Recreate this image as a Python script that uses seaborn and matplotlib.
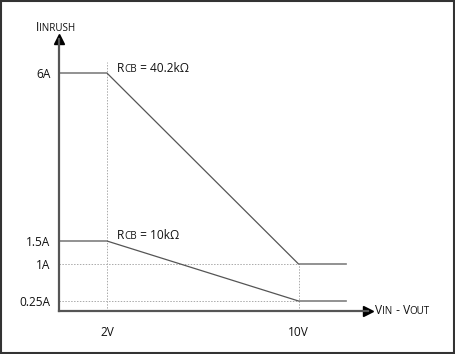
import numpy as np
import pandas as pd
import matplotlib
matplotlib.use("Agg")
import matplotlib.pyplot as plt
import seaborn as sns
from matplotlib.patches import Rectangle
from matplotlib.offsetbox import TextArea, HPacker, AnnotationBbox

# inrush current vs. (VIN - VOUT) for two RCB values
v_diff = [0, 2, 10, 12]
i_40k2 = [6, 6, 1, 1]
i_10k = [1.5, 1.5, 0.25, 0.25]
rcb_values = ["40.2k\u03a9", "10k\u03a9"]
yticks = [0.25, 1, 1.5, 6]
ytick_labels = ["0.25A", "1A", "1.5A", "6A"]
xticks = [2, 10]
xtick_labels = ["2V", "10V"]

df = pd.DataFrame({
    "v": v_diff * 2,
    "i": i_40k2 + i_10k,
    "rcb": [rcb_values[0]] * 4 + [rcb_values[1]] * 4,
})

sns.set_style("white")
plt.rcParams["font.family"] = ["Open Sans", "DejaVu Sans"]

FS = 8.6
SUB = 7.1

# schematic (non-linear) current axis
amp_knots = [0, 0.25, 1, 1.5, 6, 8]
px_knots = [0, 10, 47, 70, 238, 312.6]
fwd = lambda a: np.interp(a, amp_knots, px_knots)
inv = lambda p: np.interp(p, px_knots, amp_knots)

fig = plt.figure(figsize=(4.55, 3.54), dpi=100)
ax = fig.add_axes([59 / 455, 43 / 354, 309 / 455, 272 / 354])
ax.set_yscale("function", functions=(fwd, inv))

sns.lineplot(data=df, x="v", y="i", units="rcb", estimator=None,
             color="#555555", linewidth=0.9, ax=ax, legend=False)

grid_kw = dict(color="#aaaaaa", linestyle=(0, (1.5, 1.5)), linewidth=0.7, zorder=0)
ax.plot([2, 2], [0, 6.3], **grid_kw)
ax.plot([10, 10], [0, 1], **grid_kw)
ax.plot([0, 10], [1, 1], **grid_kw)
ax.plot([0, 10], [0.25, 0.25], **grid_kw)

ax.set_xlim(0, 12.9)
ax.set_ylim(0, inv(272))
ax.set_xticks(xticks, xtick_labels)
ax.set_yticks(yticks, ytick_labels)
ax.tick_params(length=0, labelsize=FS, colors="#111111")
ax.tick_params(axis="x", pad=11)
ax.tick_params(axis="y", pad=6)
ax.set_xlabel("")
ax.set_ylabel("")

for s in ["top", "right"]:
    ax.spines[s].set_visible(False)
for s in ["left", "bottom"]:
    ax.spines[s].set_color("#555555")
    ax.spines[s].set_linewidth(1.6)

# arrow heads
ax.plot(1, 0, ">", color="black", markersize=7, transform=ax.get_yaxis_transform(), clip_on=False)
ax.plot(0, 1, "^", color="black", markersize=7, transform=ax.get_xaxis_transform(), clip_on=False)


def sub_label(parts, xy):
    # parts: list of (text, is_subscript)
    kids = [TextArea(t, textprops=dict(size=SUB if s else FS, color="#111111")) for t, s in parts]
    box = HPacker(children=kids, align="baseline", pad=0, sep=0)
    ab = AnnotationBbox(box, xy, xycoords="data", box_alignment=(0, 0.5),
                        frameon=False, pad=0, annotation_clip=False)
    ax.add_artist(ab)


sub_label([("R", False), ("CB", True), (" = " + rcb_values[0], False)], (2.42, 6.13))
sub_label([("R", False), ("CB", True), (" = " + rcb_values[1], False)], (2.42, 1.65))
sub_label([("I", False), ("INRUSH", True)], (-0.95, 7.23))
sub_label([("V", False), ("IN", True), (" - V", False), ("OUT", True)], (13.2, 0))

fig.patches.append(Rectangle((0.002, 0.003), 0.995, 0.994, transform=fig.transFigure,
                             fill=False, edgecolor="#333333", linewidth=1.5))

fig.savefig("out.png", dpi=100)
